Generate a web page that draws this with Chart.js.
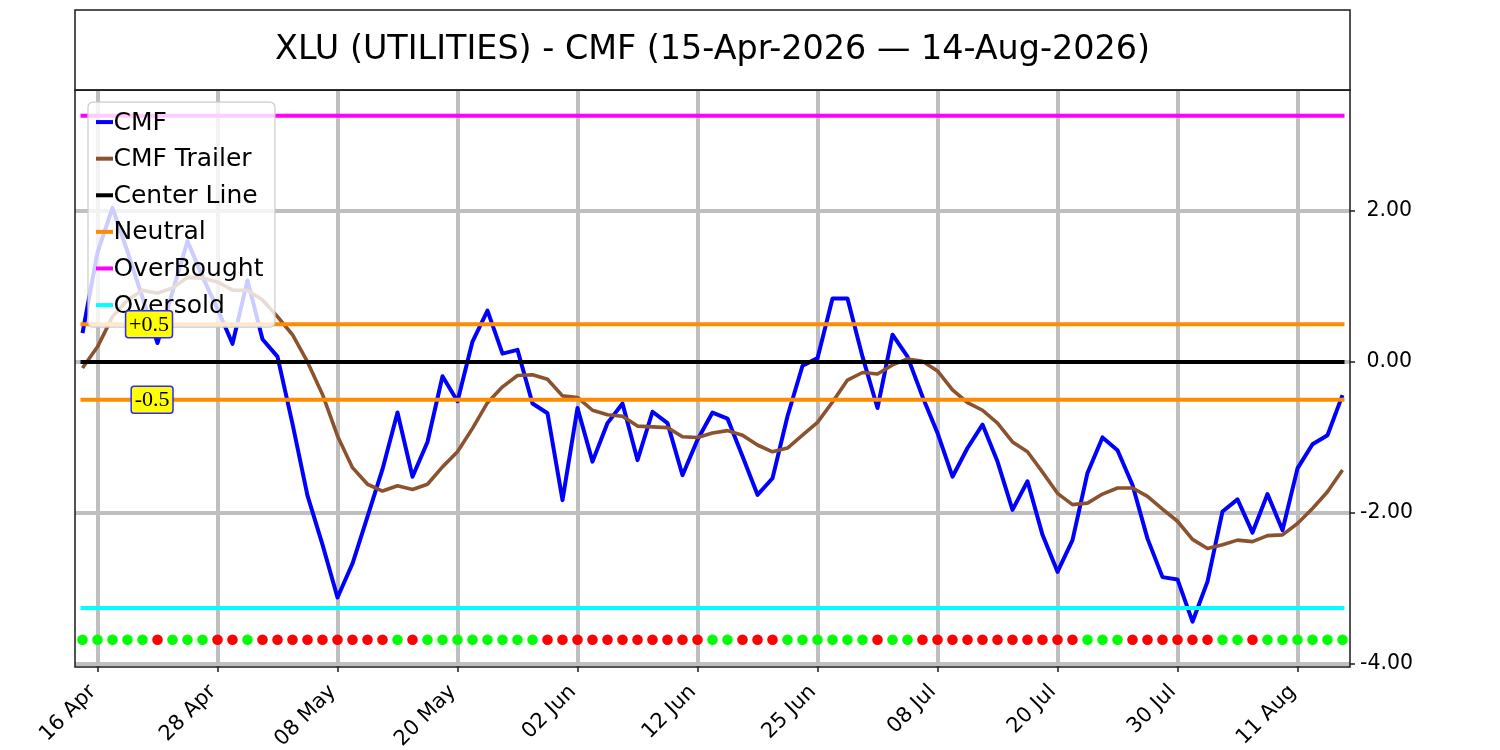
<!DOCTYPE html>
<html>
<head>
<meta charset="utf-8">
<title>XLU CMF</title>
<script src="https://cdn.jsdelivr.net/npm/chart.js@4.4.1/dist/chart.umd.min.js"></script>
<style>
  html, body { margin: 0; padding: 0; background: #fff; }
  #cmfChart { display: block; }
</style>
</head>
<body>
<canvas id="cmfChart" width="1500" height="750"></canvas>
<script>
const titleText = 'XLU (UTILITIES) - CMF (15-Apr-2026 \u2014 14-Aug-2026)';

// trading days, 15 Apr - 14 Aug 2026
const dates = [
  '15 Apr', '16 Apr', '17 Apr', '20 Apr', '21 Apr', '22 Apr', '23 Apr', '24 Apr', '27 Apr', '28 Apr', '29 Apr', '30 Apr',
  '01 May', '04 May', '05 May', '06 May', '07 May', '08 May', '11 May', '12 May', '13 May', '14 May', '15 May',
  '18 May', '19 May', '20 May', '21 May', '22 May', '26 May', '27 May', '28 May', '29 May',
  '01 Jun', '02 Jun', '03 Jun', '04 Jun', '05 Jun', '08 Jun', '09 Jun', '10 Jun', '11 Jun', '12 Jun',
  '15 Jun', '16 Jun', '17 Jun', '18 Jun', '22 Jun', '23 Jun', '24 Jun', '25 Jun', '26 Jun', '29 Jun', '30 Jun',
  '01 Jul', '02 Jul', '06 Jul', '07 Jul', '08 Jul', '09 Jul', '10 Jul', '13 Jul', '14 Jul', '15 Jul', '16 Jul', '17 Jul',
  '20 Jul', '21 Jul', '22 Jul', '23 Jul', '24 Jul', '27 Jul', '28 Jul', '29 Jul', '30 Jul', '31 Jul',
  '03 Aug', '04 Aug', '05 Aug', '06 Aug', '07 Aug', '10 Aug', '11 Aug', '12 Aug', '13 Aug', '14 Aug'
];

const cmf = [
  0.38, 1.45, 2.04, 1.46, 0.85, 0.25, 0.93, 1.60, 1.13, 0.70, 0.24, 1.08,
  0.30, 0.07, -0.82, -1.77, -2.42, -3.12, -2.67, -2.05, -1.42, -0.67, -1.52,
  -1.06, -0.19, -0.52, 0.27, 0.68, 0.11, 0.16, -0.55, -0.68,
  -1.83, -0.61, -1.32, -0.81, -0.55, -1.30, -0.66, -0.81, -1.50, -1.03,
  -0.67, -0.75, -1.25, -1.76, -1.54, -0.72, -0.05, 0.05, 0.84, 0.84, 0.07,
  -0.61, 0.36, 0.07, -0.46, -0.94, -1.52, -1.14, -0.83, -1.32, -1.96, -1.58, -2.29,
  -2.78, -2.36, -1.47, -1.00, -1.17, -1.63, -2.34, -2.85, -2.88, -3.44,
  -2.91, -1.98, -1.82, -2.26, -1.75, -2.23, -1.41, -1.09, -0.97, -0.44
];

const cmfTrailer = [
  -0.08, 0.20, 0.60, 0.82, 0.95, 0.91, 0.98, 1.12, 1.11, 1.06, 0.95, 0.95,
  0.82, 0.60, 0.36, 0.00, -0.43, -0.98, -1.40, -1.62, -1.71, -1.64, -1.69,
  -1.62, -1.39, -1.19, -0.88, -0.54, -0.33, -0.18, -0.17, -0.23,
  -0.45, -0.47, -0.64, -0.70, -0.72, -0.85, -0.86, -0.87, -0.99, -1.00,
  -0.94, -0.91, -0.97, -1.10, -1.19, -1.14, -0.97, -0.80, -0.53, -0.24, -0.14,
  -0.16, -0.04, 0.04, 0.01, -0.12, -0.37, -0.54, -0.64, -0.81, -1.06, -1.19, -1.46,
  -1.74, -1.89, -1.87, -1.75, -1.67, -1.67, -1.78, -1.95, -2.11, -2.35,
  -2.47, -2.42, -2.36, -2.38, -2.30, -2.29, -2.14, -1.94, -1.72, -1.43
];

// 1 = green dot, 0 = red dot
const signal = [
  1, 1, 1, 1, 1, 0, 1, 1, 1, 0, 0, 1,
  0, 0, 0, 0, 0, 0, 0, 0, 0, 1, 0,
  1, 1, 1, 1, 1, 1, 1, 1, 0,
  0, 0, 0, 0, 0, 0, 0, 0, 0, 0,
  1, 1, 0, 0, 0, 1, 1, 1, 1, 1, 1,
  0, 1, 1, 0, 0, 0, 0, 0, 0, 0, 0, 0,
  0, 0, 1, 1, 1, 0, 0, 0, 0, 0,
  0, 1, 1, 0, 1, 1, 1, 1, 1, 1
];

const centerLevel = 0;
const neutralLevel = 0.5;
const overBought = 3.26;
const overSold = -3.26;
const signalRow = -3.68;

const xTickLabels = ['16 Apr', '28 Apr', '08 May', '20 May', '02 Jun', '12 Jun', '25 Jun', '08 Jul', '20 Jul', '30 Jul', '11 Aug'];
const yTickValues = [2, 0, -2, -4];
const yTickLabels = [' 2.00', ' 0.00', '-2.00', '-4.00'];
const legendNames = ['CMF', 'CMF Trailer', 'Center Line', 'Neutral', 'OverBought', 'Oversold'];

const FONT = '"DejaVu Sans", sans-serif';

function level(v) {
  return [{ x: dates[0], y: v }, { x: dates[dates.length - 1], y: v }];
}

function hline(label, v, color, order) {
  return {
    label, data: level(v), borderColor: color, backgroundColor: color,
    borderWidth: 4, pointRadius: 0, borderCapStyle: 'square', order
  };
}

// white legend box drawn over the lines, like the original
const legendBox = {
  id: 'legendBox',
  afterDatasetsDraw(chart) {
    const { ctx, chartArea } = chart;
    ctx.save();
    ctx.font = '25px ' + FONT;
    const textW = Math.max(...legendNames.map(n => ctx.measureText(n).width));
    const x0 = chartArea.left + 13;
    const y0 = chartArea.top + 12;
    const step = 36.6;
    const w = 26 + textW + 11;
    const h = 20 + step * (legendNames.length - 1) + 22;
    ctx.beginPath();
    ctx.roundRect(x0, y0, w, h, 5);
    ctx.fillStyle = 'rgba(255,255,255,0.8)';
    ctx.fill();
    ctx.lineWidth = 1.2;
    ctx.strokeStyle = '#cccccc';
    ctx.stroke();
    ctx.textBaseline = 'middle';
    ctx.textAlign = 'left';
    legendNames.forEach((name, i) => {
      const ds = chart.data.datasets.find(d => d.label === name);
      const y = y0 + 20 + i * step;
      ctx.beginPath();
      ctx.moveTo(x0 + 8, y);
      ctx.lineTo(x0 + 25, y);
      ctx.lineWidth = 4;
      ctx.strokeStyle = ds.borderColor;
      ctx.stroke();
      ctx.fillStyle = '#000';
      ctx.fillText(name, x0 + 25.5, y + 1);
    });
    ctx.restore();
  }
};

function drawTag(ctx, text, right, cy) {
  ctx.font = '22px "Liberation Serif", serif';
  const w = ctx.measureText(text).width + 7;
  const h = 27;
  ctx.beginPath();
  ctx.roundRect(right - w, cy - h / 2, w, h, 3);
  ctx.fillStyle = '#ffff00';
  ctx.fill();
  ctx.lineWidth = 1.5;
  ctx.strokeStyle = '#2a2aff';
  ctx.stroke();
  ctx.fillStyle = '#000';
  ctx.textAlign = 'center';
  ctx.textBaseline = 'middle';
  ctx.fillText(text, right - w / 2, cy + 1);
}

const frames = {
  id: 'frames',
  afterDraw(chart) {
    const { ctx, chartArea, scales } = chart;
    ctx.save();
    drawTag(ctx, '+0.5', scales.x.getPixelForValue(6), scales.y.getPixelForValue(neutralLevel));
    drawTag(ctx, '-0.5', scales.x.getPixelForValue(6) + 0.5, scales.y.getPixelForValue(-neutralLevel));
    ctx.lineWidth = 1.5;
    ctx.strokeStyle = '#1a1a1a';
    ctx.strokeRect(chartArea.left, chartArea.top, chartArea.right - chartArea.left, chartArea.bottom - chartArea.top);
    ctx.strokeRect(chartArea.left, 10, chartArea.right - chartArea.left, chartArea.top - 10);
    ctx.restore();
  }
};

const ctx = document.getElementById('cmfChart').getContext('2d');

const chart = new Chart(ctx, {
  type: 'line',
  data: {
    labels: dates,
    datasets: [
      {
        label: 'CMF', data: cmf, borderColor: '#0000ff', backgroundColor: '#0000ff',
        borderWidth: 4, pointRadius: 0, tension: 0, borderJoinStyle: 'round', order: 7
      },
      {
        label: 'CMF Trailer', data: cmfTrailer, borderColor: '#8b5230', backgroundColor: '#8b5230',
        borderWidth: 3.6, pointRadius: 0, tension: 0, borderJoinStyle: 'round', order: 6
      },
      hline('Center Line', centerLevel, '#000000', 5),
      hline('Neutral', neutralLevel, '#ff8c00', 4),
      hline('Neutral low', -neutralLevel, '#ff8c00', 4),
      hline('OverBought', overBought, '#ff00ff', 3),
      hline('Oversold', overSold, '#00ffff', 2),
      {
        label: 'Signal', data: signal.map(() => signalRow), showLine: false,
        pointRadius: 5.3, pointBorderWidth: 0,
        pointBackgroundColor: signal.map(s => s ? '#00ff00' : '#ff0000'),
        order: 1
      }
    ]
  },
  options: {
    responsive: false,
    animation: false,
    devicePixelRatio: 1,
    layout: { padding: { left: 75, top: 10, right: 0, bottom: 0 } },
    plugins: {
      legend: { display: false },
      tooltip: { enabled: false },
      title: {
        display: true, text: titleText, fullSize: false, color: '#000',
        font: { family: FONT, size: 33.4, weight: 'normal' },
        padding: { top: 20, bottom: 20 }
      }
    },
    scales: {
      x: {
        type: 'category',
        offset: true,
        border: { display: false },
        grid: { offset: false, color: '#bfbfbf', lineWidth: 4, tickLength: 5, tickColor: '#1a1a1a', tickWidth: 1.5 },
        ticks: {
          autoSkip: false, minRotation: 45, maxRotation: 45, padding: 3,
          color: '#000', font: { family: FONT, size: 21 },
          // trailing space nudges the rotated label down-left, as in the original
          callback: v => dates[v] + ' '
        },
        afterBuildTicks: s => { s.ticks = s.ticks.filter(t => xTickLabels.includes(dates[t.value])); },
        afterFit: s => { s.height = 83; }
      },
      y: {
        position: 'right',
        min: -4.04,
        max: 3.60,
        border: { display: false },
        grid: { color: '#bfbfbf', lineWidth: 4, tickLength: 5, tickColor: '#1a1a1a', tickWidth: 1.5 },
        ticks: {
          padding: 5, color: '#000', font: { family: FONT, size: 20.5 },
          callback: v => yTickLabels[yTickValues.indexOf(v)]
        },
        afterBuildTicks: s => { s.ticks = yTickValues.map(v => ({ value: v })); },
        afterFit: s => { s.width = 150; }
      }
    }
  },
  plugins: [legendBox, frames]
});
</script>
</body>
</html>
